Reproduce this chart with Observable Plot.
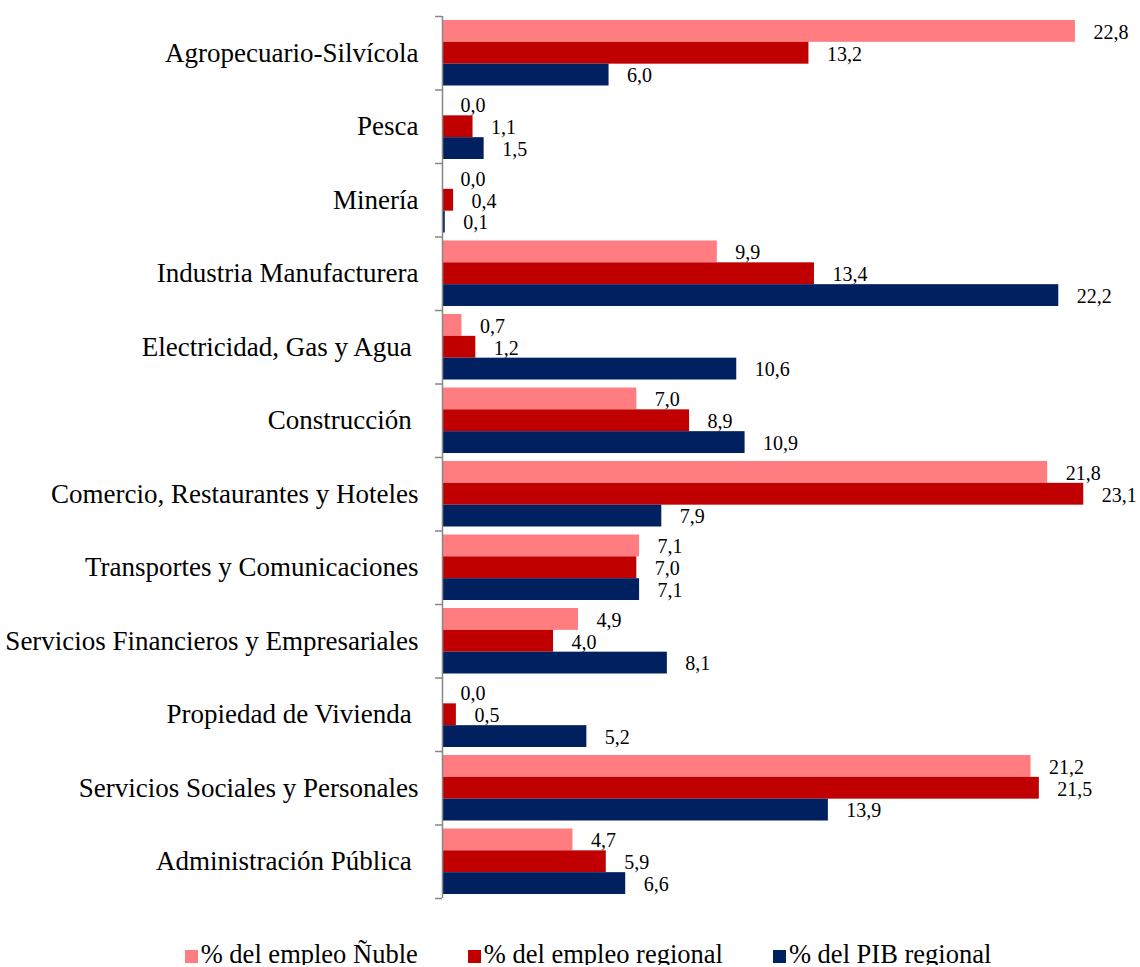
<!DOCTYPE html>
<html>
<head>
<meta charset="utf-8">
<script src="https://cdn.jsdelivr.net/npm/d3@7"></script>
<script src="https://cdn.jsdelivr.net/npm/@observablehq/plot@0.6"></script>
<style>
  body { margin: 0; background: #fff; font-family: "Liberation Serif", "Times New Roman", serif; color: #000; }
  #chart svg, #chart svg text { font-family: "Liberation Serif", "Times New Roman", serif; }
  #chart svg text { white-space: pre; }
  #chart svg { display: block; }
  #legend { display: flex; justify-content: center; align-items: center; padding-top: 23px; line-height: 22px; font-size: 26.5px; padding-left: 36px; }
  .item { display: flex; align-items: center; margin: 0 25px; }
  .sw { width: 13px; height: 13px; margin-right: 3px; margin-top: 4px; }
</style>
</head>
<body>
<div id="chart"></div>
<div id="legend"></div>
<script>
const categories = [
  "Agropecuario-Silvícola",
  "Pesca",
  "Minería",
  "Industria Manufacturera",
  "Electricidad, Gas y Agua ",
  "Construcción ",
  "Comercio, Restaurantes y Hoteles",
  "Transportes y Comunicaciones",
  "Servicios Financieros y Empresariales",
  "Propiedad de Vivienda ",
  "Servicios Sociales y Personales",
  "Administración Pública "
];
const series = ["% del empleo Ñuble", "% del empleo regional", "% del PIB regional"];
const empleoNuble    = [22.8, 0.0, 0.0,  9.9,  0.7,  7.0, 21.8, 7.1, 4.9, 0.0, 21.2, 4.7];
const empleoRegional = [13.2, 1.1, 0.4, 13.4,  1.2,  8.9, 23.1, 7.0, 4.0, 0.5, 21.5, 5.9];
const pibRegional    = [ 6.0, 1.5, 0.1, 22.2, 10.6, 10.9,  7.9, 7.1, 8.1, 5.2, 13.9, 6.6];
const colors = ["#FF7C80", "#C00000", "#002060"];
const xDomain = [0, 25];

const seriesValues = [empleoNuble, empleoRegional, pibRegional];
const rowsBySeries = seriesValues.map((vals, j) =>
  categories.map((cat, i) => ({cat, series: series[j], value: vals[i]})));

const W = 1140, H = 920, mt = 16, mb = 22, ml = 442, mr = 4;
const bandH = (H - mt - mb) / categories.length;
const pad = 4;
const bh = (bandH - 2 * pad) / 3;
const fmt = v => d3.format(".1f")(v).replace(".", ",");
const axisColor = "#868686";
const serif = "Liberation Serif, Times New Roman, serif";

const marks = [];
rowsBySeries.forEach((rows, j) => {
  const insetTop = pad + j * bh;
  const insetBottom = bandH - pad - (j + 1) * bh;
  const center = pad + (j + 0.5) * bh - bandH / 2;
  marks.push(Plot.barX(rows, {x: "value", y: "cat", fill: "series", insetTop, insetBottom}));
  marks.push(Plot.text(rows, {x: "value", y: "cat", text: d => fmt(d.value), dx: 18, dy: center + 1, textAnchor: "start", fontSize: 20, fontFamily: serif, fill: "#000"}));
});

const chart = Plot.plot({
  width: W, height: H,
  marginTop: mt, marginBottom: mb, marginLeft: ml, marginRight: mr,
  style: {fontFamily: serif, fontSize: "20px", color: "#000", background: "#fff"},
  x: {domain: xDomain, axis: null},
  y: {domain: categories, padding: 0, round: false, label: null, axis: null},
  color: {domain: series, range: colors},
  marks: [
    ...marks,
    Plot.axisY({tickSize: 0, tickPadding: 24, fontSize: 27, fontFamily: serif, label: null}),
    Plot.ruleX([0], {stroke: axisColor, strokeWidth: 1.5}),
    Plot.ruleY(categories, {y: d => d, x1: 0, x2: 0, insetLeft: -7, dy: -bandH / 2, stroke: axisColor, strokeWidth: 1.5}),
    Plot.ruleY([categories[categories.length - 1]], {y: d => d, x1: 0, x2: 0, insetLeft: -7, dy: bandH / 2, stroke: axisColor, strokeWidth: 1.5})
  ]
});
document.getElementById("chart").appendChild(chart);

const legend = document.getElementById("legend");
series.forEach((s, j) => {
  const item = document.createElement("div");
  item.className = "item";
  const sw = document.createElement("span");
  sw.className = "sw";
  sw.style.background = colors[j];
  const t = document.createElement("span");
  t.textContent = s;
  item.appendChild(sw);
  item.appendChild(t);
  legend.appendChild(item);
});
</script>
</body>
</html>
